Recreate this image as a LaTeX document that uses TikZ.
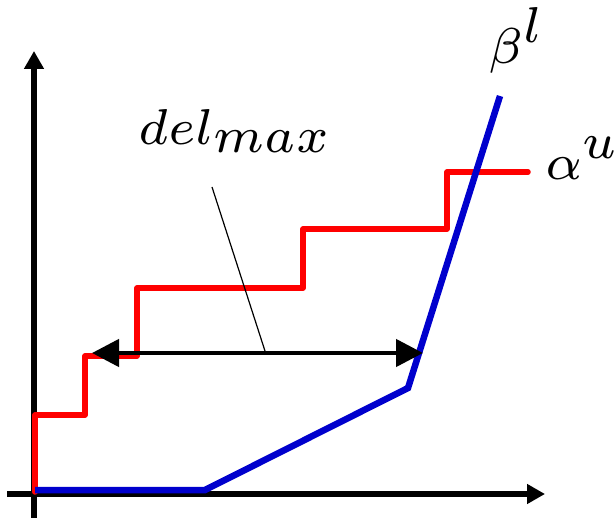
\documentclass[tikz,border=0pt]{standalone}
\usetikzlibrary{arrows.meta}
\DeclareMathSizes{7}{7}{7}{7}
\definecolor{myred}{RGB}{255,0,0}
\definecolor{myblue}{RGB}{0,0,205}
\begin{document}
\begin{tikzpicture}[x=1pt,y=-1pt,
  axis/.style={line width=6.5pt,-{Triangle[length=18pt,width=19pt]}},
  alphacurve/.style={myred,line width=5.5pt,line join=round,line cap=round},
  betacurve/.style={myblue,line width=6.5pt,line join=miter},
  delarrow/.style={line width=4.5pt,{Triangle[length=27pt,width=27pt]}-{Triangle[length=27pt,width=27pt]}},
  pointer/.style={line width=1.2pt},
  lbl/.style={inner sep=0pt,font=\scriptsize,scale=7.2}]
\useasboundingbox (0,0) rectangle (616,518);
% axes
\coordinate (yb) at (34,518);
\coordinate (yt) at (34,51);
\coordinate (xl) at (7,494);
\coordinate (xr) at (545,494);
\draw[axis] (yb) -- (yt);
\draw[axis] (xl) -- (xr);
% alpha^u staircase
\draw[alphacurve] (35,492) -- (35,415) -- (85,415) -- (85,356) -- (137,356)
  -- (137,288) -- (303,288) -- (303,229) -- (447,229) -- (447,172) -- (528,172);
% beta^l
\draw[betacurve] (35,490) -- (205,490) -- (408,388) -- (500,96);
% del max arrow
\coordinate (al) at (92,353);
\coordinate (ar) at (423,353);
\draw[delarrow] (al) -- (ar);
% labels
\node[lbl,anchor=base west] (del) at (137,145) {$del_{max}$};
\node[lbl,anchor=base west] (alpha) at (544,180) {$\alpha^u$};
\node[lbl,anchor=base west] (beta) at (487,64) {$\beta^l$};
\coordinate (pt) at (212,187);
\coordinate (pb) at (265,351);
\draw[pointer] (pt) -- (pb);
\end{tikzpicture}
\end{document}
